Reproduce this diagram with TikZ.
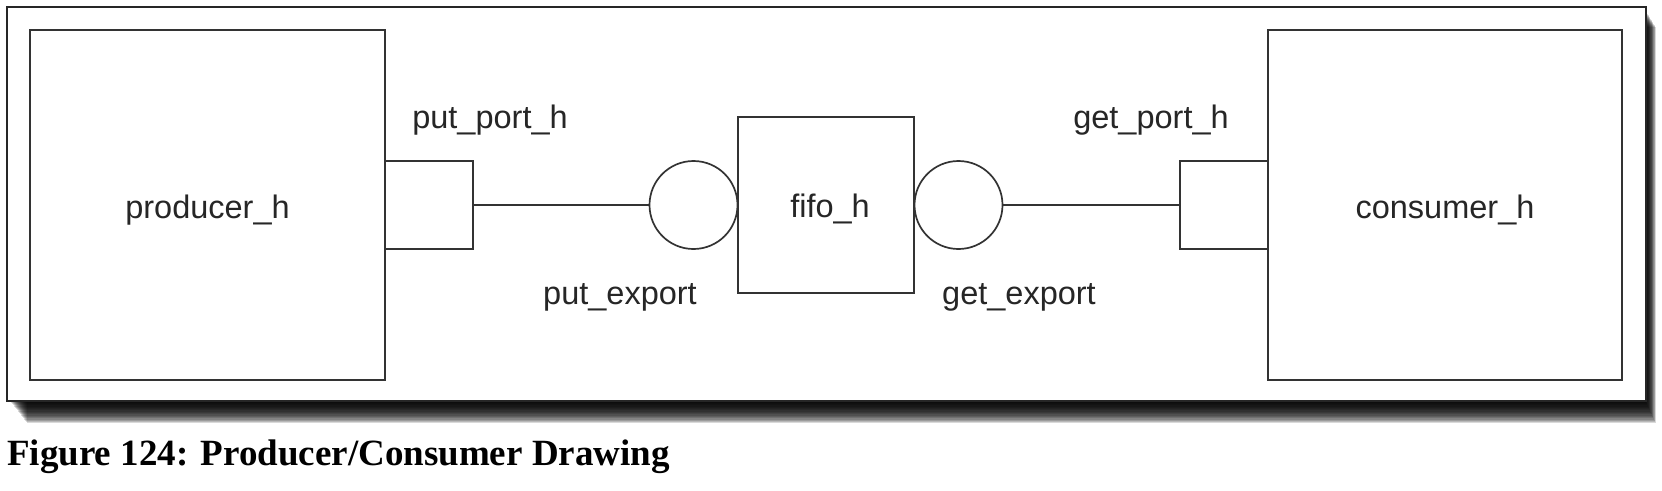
\documentclass[tikz,border=0pt]{standalone}
\usepackage{fontspec}
\setmainfont{Liberation Sans}
\newfontfamily\capfont{Liberation Serif}
\begin{document}
\begin{tikzpicture}[x=1pt,y=-1pt,
  txt/.style={font=\fontsize{32.5}{38}\selectfont, text=black!85, inner sep=0pt},
  lbl/.style={txt},
  blk/.style={draw=black!80, line width=1.7pt, fill=white, inner sep=0pt, outer sep=0pt},
  portbox/.style={blk, minimum width=88pt, minimum height=88pt},
  expcirc/.style={draw=black!80, line width=1.7pt, fill=white, circle, inner sep=0pt, outer sep=0pt, minimum size=88pt},
  wire/.style={draw=black!80, line width=1.7pt}]
\useasboundingbox (0,0) rectangle (1662,490);
\fill[white] (0,0) rectangle (1662,490);
% shadow
\foreach \k in {1,...,18}
  \fill[black, opacity=0.15] (9+\k,9+\k) rectangle (1645+0.6*\k,400+1.3*\k);
% frame
\node[draw=black!85, line width=2.4pt, fill=white, inner sep=0pt, outer sep=0pt,
      minimum width=1639pt, minimum height=394pt] (frame) at (826.5,204) {};
% blocks
\node[blk, minimum width=355pt, minimum height=350pt,
      label={[txt, yshift=-5pt]center:producer\_h}] (prod) at (207.5,205) {};
\node[portbox] (putport) at (429,205) {};
\node[expcirc] (putexp) at (693.5,205) {};
\node[blk, minimum width=176pt, minimum height=176pt,
      label={[txt, yshift=-4pt, xshift=4pt]center:fifo\_h}] (fifo) at (826,205) {};
\node[expcirc] (getexp) at (958.5,205) {};
\node[portbox] (getport) at (1224,205) {};
\node[blk, minimum width=354pt, minimum height=350pt,
      label={[txt, yshift=-5pt]center:consumer\_h}] (cons) at (1445,205) {};
% connectors
\draw[wire] (putport.east) -- (putexp.west);
\draw[wire] (getexp.east) -- (getport.west);
% labels
\node[lbl] (lputport) at (490,120) {put\_port\_h};
\node[lbl] (lputexp) at (620,297) {put\_export};
\node[lbl] (lgetexp) at (1019,297) {get\_export};
\node[lbl] (lgetport) at (1151,120) {get\_port\_h};
% caption
\node[anchor=base west, inner sep=0pt, font=\capfont\bfseries\fontsize{37}{42}\selectfont] (cap) at (7,465) {Figure 124: Producer/Consumer Drawing};
\end{tikzpicture}
\end{document}
